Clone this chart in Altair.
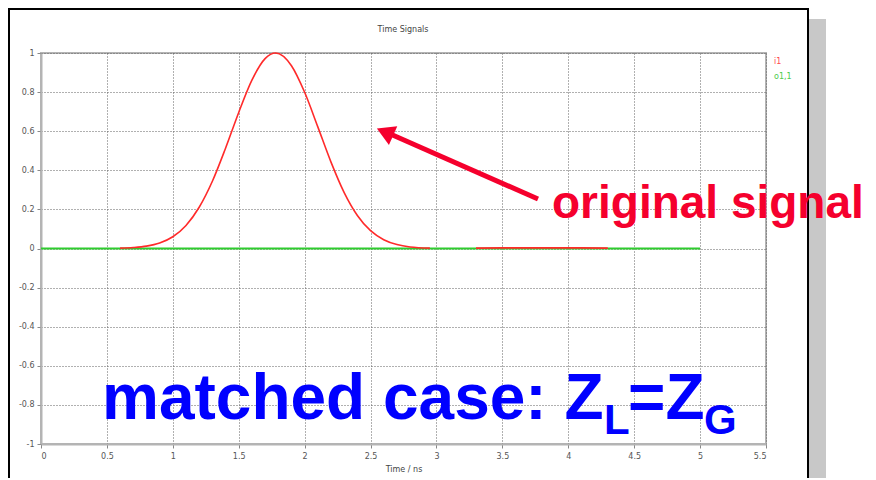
import altair as alt
import pandas as pd

# ---- data ----
t_pulse = [0.6, 0.7, 0.8, 0.9, 1.0, 1.1, 1.2, 1.3, 1.4, 1.5, 1.6, 1.7, 1.78, 1.9,
           2.0, 2.1, 2.2, 2.3, 2.4, 2.5, 2.6, 2.7, 2.8, 2.95]
v_pulse = [0.002, 0.005, 0.012, 0.028, 0.06, 0.118, 0.211, 0.344, 0.513, 0.696, 0.861,
           0.971, 1.0, 0.935, 0.799, 0.622, 0.442, 0.286, 0.169, 0.091, 0.045, 0.02,
           0.008, 0.002]
t_tail = [3.3, 3.5, 3.8, 4.1, 4.3]
v_tail = [0.002, 0.003, 0.003, 0.003, 0.002]
t_out = [0.0, 1.0, 2.0, 3.0, 4.0, 5.0]
v_out = [0.0, 0.0, 0.0, 0.0, 0.0, 0.0]
x_ticks = [0, 0.5, 1, 1.5, 2, 2.5, 3, 3.5, 4, 4.5, 5, 5.5]
y_ticks = [-1, -0.8, -0.6, -0.4, -0.2, 0, 0.2, 0.4, 0.6, 0.8, 1]
legend_names = ["i1", "o1,1"]

RED_LINE = "#ff2a2a"
GREEN_LINE = "#2ecc2e"
ANNOT_RED = "#f5002d"
ANNOT_BLUE = "#0000ff"

red_df = pd.DataFrame({
    "t": t_pulse + t_tail,
    "v": v_pulse + v_tail,
    "seg": ["a"] * len(t_pulse) + ["b"] * len(t_tail),
})
green_df = pd.DataFrame({"t": t_out, "v": v_out})
one = pd.DataFrame({"k": [0]})

xs = alt.Scale(domain=[0, 5.5], nice=False, zero=False)
ys = alt.Scale(domain=[-1, 1], nice=False, zero=False)

x_axis = alt.Axis(values=x_ticks, labelExpr="'' + datum.value", title="Time / ns",
                  grid=True, gridDash=[1, 2], gridColor="#606060", gridWidth=1,
                  domainColor="#b4b4b4", domainWidth=2, tickColor="#888", tickSize=4,
                  labelFont="DejaVu Sans", labelFontSize=8, labelColor="#555",
                  labelPadding=4, labelOverlap=False,
                  titleFont="DejaVu Sans", titleFontSize=8,
                  titleFontWeight="normal", titleColor="#444", titlePadding=5)
y_axis = alt.Axis(values=y_ticks, tickCount=11, labelExpr="'' + datum.value", title=None,
                  grid=True, gridDash=[1, 2], gridColor="#606060", gridWidth=1,
                  domainColor="#b4b4b4", domainWidth=2, tickColor="#888", tickSize=4,
                  labelFont="DejaVu Sans", labelFontSize=8, labelColor="#555",
                  labelPadding=3, labelOverlap=False, labelBound=False)

# decorations: outer frame and shadow
shadow = alt.Chart(one).mark_rect(color="#c8c8c8").encode(
    x=alt.value(768), x2=alt.value(785), y=alt.value(-34), y2=alt.value(440))
frame = alt.Chart(one).mark_rect(fill=None, stroke="black", strokeWidth=2, fillOpacity=0).encode(
    x=alt.value(-32), x2=alt.value(767), y=alt.value(-44), y2=alt.value(440))

green = alt.Chart(green_df).mark_line(color=GREEN_LINE, strokeWidth=2).encode(
    x=alt.X("t:Q", scale=xs, axis=x_axis),
    y=alt.Y("v:Q", scale=ys, axis=y_axis),
)
red = alt.Chart(red_df).mark_line(color=RED_LINE, strokeWidth=1.6, interpolate="monotone").encode(
    x=alt.X("t:Q", scale=xs, axis=x_axis),
    y=alt.Y("v:Q", scale=ys, axis=y_axis),
    detail="seg:N",
)

leg1 = alt.Chart(one).mark_text(text=legend_names[0], color="#ff4a4a", fontSize=8,
                                font="DejaVu Sans", align="left", baseline="middle").encode(
    x=alt.value(733), y=alt.value(9))
leg2 = alt.Chart(one).mark_text(text=legend_names[1], color="#4ccc4c", fontSize=8,
                                font="DejaVu Sans", align="left", baseline="middle").encode(
    x=alt.value(733), y=alt.value(24))

title = alt.Chart(one).mark_text(text="Time Signals", color="#444", fontSize=8,
                                 font="DejaVu Sans", align="center", baseline="middle").encode(
    x=alt.value(362), y=alt.value(-23))

orig = alt.Chart(one).mark_text(text="original signal", color=ANNOT_RED, fontSize=46,
                                font="Liberation Sans", fontWeight="bold",
                                align="left", baseline="alphabetic").encode(
    x=alt.value(511), y=alt.value(165))

shaft = alt.Chart(one).mark_rule(color=ANNOT_RED, strokeWidth=5).encode(
    x=alt.value(497), y=alt.value(146), x2=alt.value(347), y2=alt.value(80))
head = alt.Chart(one).mark_point(shape="triangle-up", filled=True, color=ANNOT_RED,
                                 opacity=1, size=420, angle=294).encode(
    x=alt.value(344), y=alt.value(79))

m_main = alt.Chart(one).mark_text(text="matched case: Z", color=ANNOT_BLUE, fontSize=64,
                                  font="Liberation Sans", fontWeight="bold",
                                  align="left", baseline="alphabetic").encode(
    x=alt.value(61), y=alt.value(366))
m_L = alt.Chart(one).mark_text(text="L", color=ANNOT_BLUE, fontSize=42,
                               font="Liberation Sans", fontWeight="bold",
                               align="left", baseline="alphabetic").encode(
    x=alt.value(563), y=alt.value(381))
m_eq = alt.Chart(one).mark_text(text="=Z", color=ANNOT_BLUE, fontSize=64,
                                font="Liberation Sans", fontWeight="bold",
                                align="left", baseline="alphabetic").encode(
    x=alt.value(587), y=alt.value(366))
m_G = alt.Chart(one).mark_text(text="G", color=ANNOT_BLUE, fontSize=42,
                               font="Liberation Sans", fontWeight="bold",
                               align="left", baseline="alphabetic").encode(
    x=alt.value(663), y=alt.value(381))

chart = alt.layer(
    shadow, frame, green, red, leg1, leg2, title, orig, shaft, head, m_main, m_L, m_eq, m_G
).properties(
    width=725, height=391,
    autosize=alt.AutoSizeParams(type="none"),
    padding={"left": 33, "top": 45, "right": 102, "bottom": 34},
    background="white",
).configure_view(stroke="#b4b4b4", strokeWidth=2)

chart.save("out.html", embed_options={"renderer": "svg", "actions": False})
